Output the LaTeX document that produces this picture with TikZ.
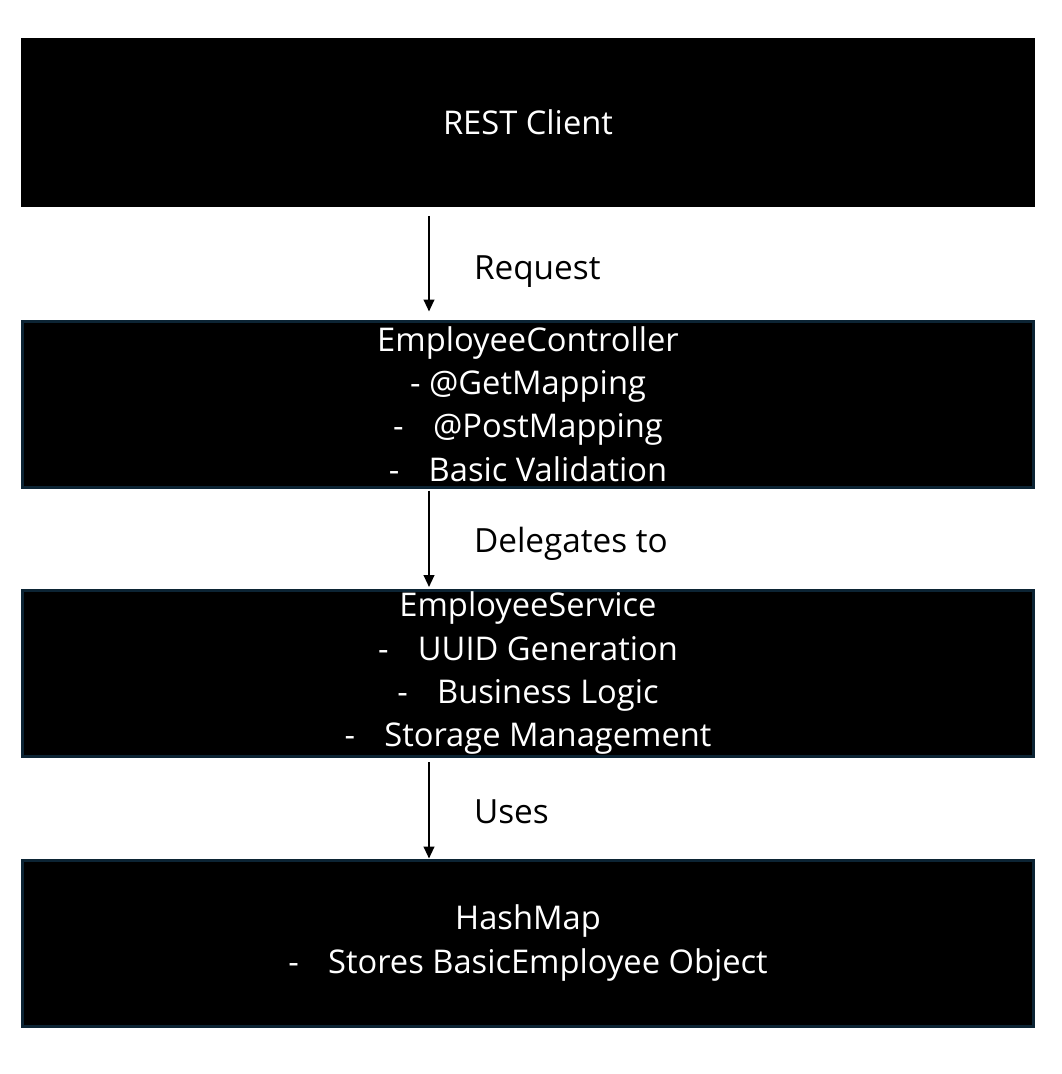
\documentclass[tikz,border=0pt]{standalone}
\usepackage{fontspec}
\setmainfont{Open Sans}
\usetikzlibrary{arrows.meta, positioning, calc}
\definecolor{boxedge}{RGB}{12, 36, 52}

\begin{document}
\begin{tikzpicture}[x=0.75pt, y=-0.75pt,
  layer/.style={fill=black, text=white, align=center, inner sep=0pt, minimum width=760.5pt, minimum height=126.75pt, font=\fontsize{24.5}{32.5}\selectfont},
  framed/.style={layer, draw=boxedge, line width=2.25pt, minimum width=758.25pt, minimum height=124.5pt},
  flow/.style={-{Triangle[length=9pt, width=8pt]}, line width=1.5pt},
  note/.style={font=\fontsize{25}{26}\selectfont, inner sep=0pt, midway, right=33pt}]
  \useasboundingbox (0,0) rectangle (1062,1074);

  % Client
  \node[layer] (client) at (528, 122.5) {REST Client};

  % Controller
  \node[framed] (ctrl) at (528, 404) {EmployeeController\\
    - @GetMapping\\
    -\hspace{22pt}@PostMapping\\
    -\hspace{22pt}Basic Validation};

  % Service
  \node[framed] (svc) at (528, 673.5) {EmployeeService\\
    -\hspace{22pt}UUID Generation\\
    -\hspace{22pt}Business Logic\\
    -\hspace{22pt}Storage Management};

  % Storage
  \node[framed] (store) at (528, 943) {HashMap\\
    -\hspace{22pt}Stores BasicEmployee Object};

  % Arrows
  \draw[flow] ($(client.south)+(-99,8.5)$) -- ($(ctrl.north)+(-99,-8)$) node[note, yshift=-6pt] (req) {Request};
  \draw[flow] ($(ctrl.south)+(-99,2)$) -- ($(svc.north)+(-99,-2)$) node[note, yshift=-3.5pt] (deleg) {Delegates to};
  \draw[flow] ($(svc.south)+(-99,4)$) -- ($(store.north)+(-99,0)$) node[note, yshift=-1.5pt] (uses) {Uses};
\end{tikzpicture}
\end{document}
